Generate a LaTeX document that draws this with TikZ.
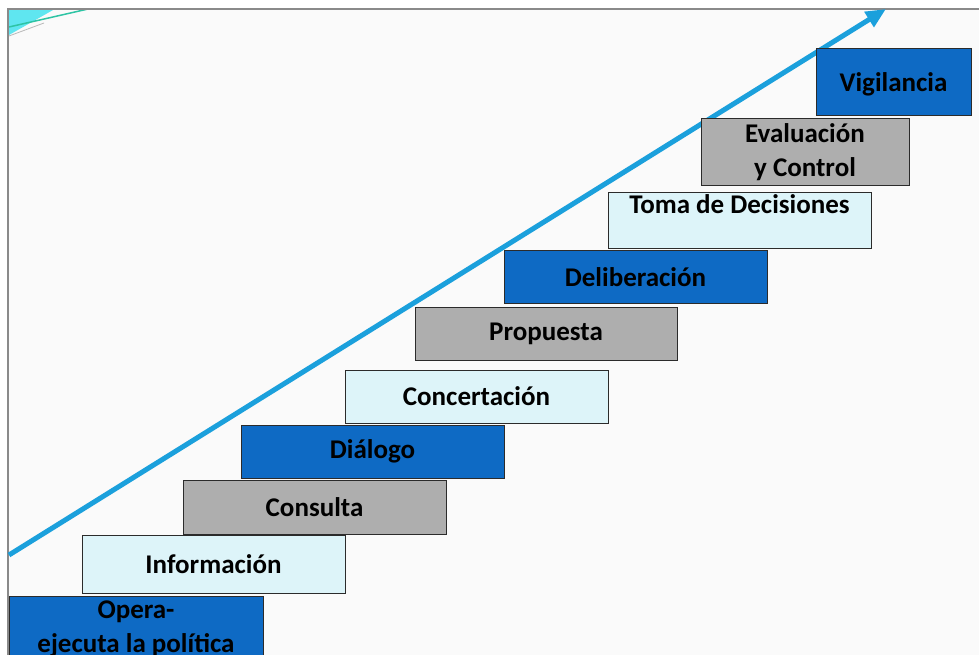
\documentclass[tikz,border=0pt]{standalone}
\usepackage{fontspec}
\setmainfont{Carlito}
\usepackage{tikz}
\usetikzlibrary{arrows.meta}
\definecolor{stepblue}{HTML}{0E6AC4}
\definecolor{stepgray}{HTML}{AEAEAE}
\definecolor{steplight}{HTML}{DDF4F9}
\definecolor{boxline}{HTML}{2B2B2B}
\definecolor{arrowblue}{HTML}{1BA0DC}
\definecolor{paper}{HTML}{FAFAFA}
\definecolor{framegray}{HTML}{8A8A8A}
\definecolor{cornercyan}{HTML}{5FE6F0}
\definecolor{cornergreen}{HTML}{2EC4A4}

\begin{document}
\begin{tikzpicture}[x=1pt, y=-1pt,
  box/.style={draw=boxline, line width=1pt, inner sep=0pt, align=center,
    font=\fontsize{27}{34}\selectfont\bfseries}]
\useasboundingbox (0,0) rectangle (979,655);
\clip (0,0) rectangle (979,655);
\fill[white] (0,0) rectangle (979,655);
\fill[paper] (8,9) rectangle (990,665);

% corner of the slide
\fill[cornercyan] (9,10) -- (53,10) -- (9,35) -- cycle;
\draw[framegray!60, line width=0.8pt] (9,36) -- (44,23);
\draw[cornergreen, line width=1.5pt] (9,27) -- (88,9);
\draw[framegray, line width=2pt] (990,9) -- (8,9) -- (8,665);

% arrow
\coordinate (start) at (9,555);
\coordinate (tip) at (886,9);
\draw[arrowblue, line width=5pt, -{Triangle[length=20pt,width=17pt]}] (start) -- (tip);

% steps
\node[box, fill=stepblue, minimum width=254pt, minimum height=66pt] (opera) at (136,629) {Opera-\\ejecuta la política};
\node[box, fill=steplight, minimum width=263pt, minimum height=58pt] (info) at (213.5,564) {Información};
\node[box, fill=stepgray, minimum width=263pt, minimum height=54pt] (consulta) at (314.5,507) {Consulta};
\node[box, fill=stepblue, minimum width=263pt, minimum height=53pt] (dialogo) at (372.5,451.5) {Diálogo};
\node[box, fill=steplight, minimum width=263pt, minimum height=53pt] (concert) at (476.5,396.5) {Concertación};
\node[box, fill=stepgray, minimum width=262pt, minimum height=53pt] (propuesta) at (546,333.5) {Propuesta};
\node[box, fill=stepblue, minimum width=263pt, minimum height=53pt] (delib) at (635.5,277) {Deliberación};
\node[box, fill=steplight, minimum width=263pt, minimum height=55pt] (toma) at (739.5,220.5) {};
\node[box, draw=none, fill=none, anchor=north] (tomatxt) at ([yshift=-2pt]toma.north) {Toma de Decisiones};
\node[box, fill=stepgray, minimum width=208pt, minimum height=67pt] (eval) at (805,152.5) {Evaluación\\y Control};
\node[box, fill=stepblue, minimum width=155pt, minimum height=67pt, text depth=0pt] (vigil) at (893.5,82.5) {Vigilancia};
\end{tikzpicture}
\end{document}
